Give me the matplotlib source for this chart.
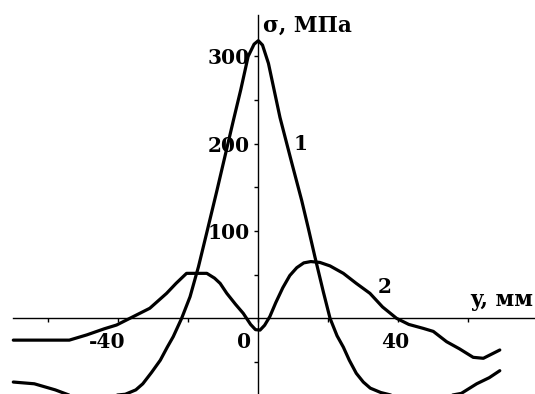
import matplotlib
matplotlib.use("Agg")
import matplotlib.pyplot as plt
from matplotlib.transforms import ScaledTranslation

# ---- data ----
y1_x = [-70, -64, -58, -54, -46, -38, -35, -33, -30.5, -28, -26, -24.3, -21.9,
        -19.5, -17.1, -14.7, -11.9, -10, -7.1, -5, -2.9, -1.2, 0, 1.2, 2.9, 6.2,
        9.5, 12.4, 14.3, 16.2, 18.6, 20.5, 22.5, 24.3, 26, 28, 30, 32, 35, 38,
        46, 54, 58, 62.4, 66, 69]
y1_s = [-73, -75, -82, -88, -90, -87, -82, -75, -62, -48, -33, -21, 0,
        24.7, 59, 98.5, 145, 177.5, 227, 262, 300, 314, 318, 313, 292, 230,
        179, 135, 103, 70, 30, 0, -20, -33, -48, -63, -73, -80, -85, -88,
        -90, -89, -86, -75, -68, -60]

y2_x = [-70, -54, -49, -44, -40.5, -35.7, -31, -26.2, -23.5, -20.5, -14.7,
        -12.5, -10.9, -9, -6.5, -4.3, -2.2, -0.8, 0.5, 1.8, 3.3, 5, 7, 9, 11, 13,
        15, 17.6, 20.5, 24.3, 28, 31.9, 35.5, 39.5, 43, 47.1, 50, 53.8, 57.5,
        61.4, 64.3, 69]
y2_s = [-25, -25, -19, -12, -7.7, 2, 11.5, 28.6, 40, 51.5, 51.5,
        46, 40, 28.6, 16, 5.7, -7, -13, -13.5, -8, 2, 18, 35, 49, 58, 63.5,
        65, 64, 60, 51.5, 40, 28.6, 13, 0, -7, -11.5, -15, -26.8, -35,
        -44.7, -45.8, -36.3]

x_major = [-40, 0, 40]
x_major_labels = ["-40", "0", "40"]
x_minor = [-60, -20, 20, 60]
y_major = [100, 200, 300]
y_major_labels = ["100", "200", "300"]
y_minor = [-50, 50, 150, 250]

curve_labels = ["1", "2"]
x_title = "y, мм"
y_title = "σ, МПа"

# ---- figure ----
plt.rcParams['font.family'] = ['DejaVu Serif', 'Liberation Serif']
FS = 14.5
FT = 15.5
fig = plt.figure(figsize=(5.35, 3.94), dpi=100)
ax = fig.add_axes([0, 0, 1, 1])
ax.set_xlim(-73.8, 79.06)
ax.set_ylim(-86.7, 364.6)
ax.patch.set_alpha(0)

ax.plot(y1_x, y1_s, color='black', lw=2.3, solid_joinstyle='round',
        solid_capstyle='round', clip_on=True)
ax.plot(y2_x, y2_s, color='black', lw=2.3, solid_joinstyle='round',
        solid_capstyle='round', clip_on=True)

for s in ['top', 'right']:
    ax.spines[s].set_visible(False)
ax.spines['left'].set_position(('data', 0))
ax.spines['bottom'].set_position(('data', 0))
ax.spines['left'].set_bounds(-86.7, 347)
ax.spines['bottom'].set_bounds(-70, 79.06)
ax.spines['left'].set_linewidth(1.0)
ax.spines['bottom'].set_linewidth(1.0)

ax.set_xticks(x_major)
ax.set_xticklabels(x_major_labels)
ax.set_xticks(x_minor, minor=True)
ax.set_yticks(y_major)
ax.set_yticklabels(y_major_labels)
ax.set_yticks(y_minor, minor=True)

ax.tick_params(axis='both', which='both', direction='out', length=3, width=1.0)
ax.tick_params(axis='x', which='major', pad=7, labelsize=FS)
ax.tick_params(axis='y', which='major', pad=3, labelsize=FS)

for lab in ax.get_xticklabels() + ax.get_yticklabels():
    lab.set_fontweight('bold')

x_offsets_px = [-11, -14, -3]
for lab, dx in zip(ax.get_xticklabels(), x_offsets_px):
    lab.set_transform(lab.get_transform() + ScaledTranslation(dx / 100, 0, fig.dpi_scale_trans))

ax.text(12.2, 199.7, curve_labels[0], fontsize=FS, fontweight='bold', ha='center', va='center')
ax.text(36.2, 36.4, curve_labels[1], fontsize=FS, fontweight='bold', ha='center', va='center')
ax.text(60.5, 21, x_title, fontsize=FT, fontweight='bold', ha='left', va='center')
ax.text(1.3, 335, y_title, fontsize=FT, fontweight='bold', ha='left', va='center')

fig.savefig("out.png", dpi=100)
